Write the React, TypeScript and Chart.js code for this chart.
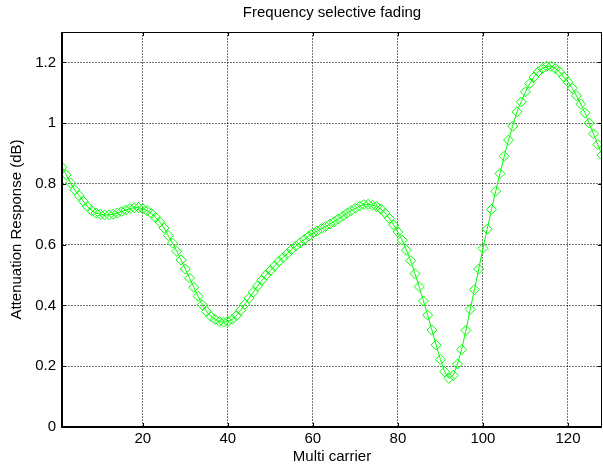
import React, { useEffect, useRef } from "react";
import { Chart, registerables } from "chart.js";

Chart.register(...registerables);

const TITLE = "Frequency selective fading";
const X_LABEL = "Multi carrier";
const Y_LABEL = "Attenuation Response (dB)";

const xTicks = [20, 40, 60, 80, 100, 120];
const yTicks = [0, 0.2, 0.4, 0.6, 0.8, 1, 1.2];

const carriers: number[] = Array.from({ length: 128 }, (_, i) => i + 1);

const attenuation: number[] = [
  // 1-10
  0.855, 0.83, 0.803, 0.78, 0.762, 0.743, 0.725, 0.712, 0.704, 0.7,
  // 11-20
  0.698, 0.698, 0.7, 0.704, 0.709, 0.714, 0.719, 0.722, 0.722, 0.718,
  // 21-30
  0.712, 0.703, 0.69, 0.675, 0.655, 0.63, 0.605, 0.578, 0.55, 0.52,
  // 31-40
  0.49, 0.46, 0.43, 0.402, 0.38, 0.364, 0.354, 0.347, 0.345, 0.347,
  // 41-50
  0.354, 0.367, 0.384, 0.404, 0.424, 0.444, 0.464, 0.483, 0.5, 0.515,
  // 51-60
  0.53, 0.545, 0.558, 0.57, 0.584, 0.596, 0.606, 0.617, 0.628, 0.638,
  // 61-70
  0.645, 0.653, 0.66, 0.668, 0.676, 0.685, 0.694, 0.703, 0.712, 0.72,
  // 71-80
  0.727, 0.732, 0.733, 0.73, 0.725, 0.717, 0.704, 0.686, 0.665, 0.642,
  // 81-90
  0.615, 0.582, 0.547, 0.505, 0.462, 0.415, 0.368, 0.319, 0.27, 0.222,
  // 91-100
  0.182, 0.16, 0.17, 0.207, 0.255, 0.318, 0.387, 0.452, 0.52, 0.588,
  // 101-110
  0.651, 0.716, 0.776, 0.834, 0.891, 0.944, 0.99, 1.037, 1.07, 1.103,
  // 111-120
  1.13, 1.152, 1.169, 1.18, 1.187, 1.187, 1.18, 1.169, 1.152, 1.136,
  // 121-128
  1.115, 1.09, 1.063, 1.034, 1.0, 0.965, 0.93, 0.895,
];

const FONT = "'Liberation Sans', Arial, Helvetica, sans-serif";
const FS = 15;

const boxPlugin = {
  id: "matlabBox",
  afterDatasetsDraw(chart: any) {
    const { ctx, chartArea, scales } = chart;
    const { left, right, top, bottom } = chartArea;
    ctx.save();
    ctx.strokeStyle = "#000";
    ctx.lineWidth = 1;
    const tl = 4;
    xTicks.forEach((v) => {
      const px = Math.round(scales.x.getPixelForValue(v)) + 0.5;
      ctx.beginPath();
      ctx.moveTo(px, bottom);
      ctx.lineTo(px, bottom - tl);
      ctx.moveTo(px, top);
      ctx.lineTo(px, top + tl);
      ctx.stroke();
    });
    yTicks.forEach((v) => {
      const py = Math.round(scales.y.getPixelForValue(v)) + 0.5;
      ctx.beginPath();
      ctx.moveTo(left, py);
      ctx.lineTo(left + tl, py);
      ctx.moveTo(right, py);
      ctx.lineTo(right - tl, py);
      ctx.stroke();
    });
    ctx.lineWidth = 1;
    ctx.beginPath();
    ctx.moveTo(left, top + 0.5);
    ctx.lineTo(right, top + 0.5);
    ctx.moveTo(right - 0.5, top);
    ctx.lineTo(right - 0.5, bottom);
    ctx.stroke();
    ctx.lineWidth = 2;
    ctx.beginPath();
    ctx.moveTo(left, top);
    ctx.lineTo(left, bottom);
    ctx.lineTo(right, bottom);
    ctx.stroke();
    ctx.restore();
  },
};

export default function App() {
  const ref = useRef<HTMLCanvasElement | null>(null);

  useEffect(() => {
    document.body.style.margin = "0";
    const canvas = ref.current;
    if (!canvas) return;
    const chart = new Chart(canvas, {
      type: "line",
      data: {
        labels: carriers,
        datasets: [
          {
            data: carriers.map((x, i) => ({ x, y: attenuation[i] })),
            borderColor: "#00ff00",
            backgroundColor: "rgba(0,0,0,0)",
            borderWidth: 1,
            pointStyle: "rectRot",
            pointRadius: 5,
            pointBorderWidth: 1,
            pointBorderColor: "#00ff00",
            pointBackgroundColor: "rgba(0,0,0,0)",
            tension: 0,
            clip: 0,
          } as any,
        ],
      },
      options: {
        responsive: false,
        animation: false,
        devicePixelRatio: 1,
        layout: { autoPadding: false, padding: { left: 0, right: 1, top: 0, bottom: 0 } },
        plugins: {
          legend: { display: false },
          tooltip: { enabled: false },
          title: {
            display: true,
            fullSize: false,
            text: TITLE,
            color: "#000",
            font: { family: FONT, size: FS, weight: "normal", lineHeight: 1.2 },
            padding: { top: 4, bottom: 10 },
          },
        },
        scales: {
          x: {
            type: "linear",
            min: 1,
            max: 128,
            afterBuildTicks: (scale: any) => {
              scale.ticks = xTicks.map((v) => ({ value: v }));
            },
            afterFit: (scale: any) => {
              scale.height = 43;
            },
            ticks: {
              color: "#000",
              font: { family: FONT, size: FS },
              padding: 3,
              maxRotation: 0,
              autoSkip: false,
            },
            grid: {
              color: "rgba(0,0,0,0.55)",
              drawTicks: false,
            },
            border: { display: false, dash: [2, 1] },
            title: {
              display: true,
              text: X_LABEL,
              color: "#000",
              font: { family: FONT, size: FS, lineHeight: 1.2 },
              padding: { top: 0, bottom: 4 },
            },
          },
          y: {
            type: "linear",
            min: 0,
            max: 1.3,
            afterBuildTicks: (scale: any) => {
              scale.ticks = yTicks.map((v) => ({ value: v }));
            },
            afterFit: (scale: any) => {
              scale.width = 62;
            },
            ticks: {
              color: "#000",
              font: { family: FONT, size: FS },
              padding: 6,
              callback: (v: any) => String(Number(Number(v).toFixed(1))),
            },
            grid: {
              color: "rgba(0,0,0,0.55)",
              drawTicks: false,
            },
            border: { display: false, dash: [2, 1] },
            title: {
              display: true,
              text: Y_LABEL,
              color: "#000",
              font: { family: FONT, size: FS, lineHeight: 1.2 },
              padding: { top: 8, bottom: 0 },
            },
          },
        },
      },
      plugins: [boxPlugin],
    });
    return () => chart.destroy();
  }, []);

  return (
    <div style={{ width: 603, height: 470 }}>
      <canvas ref={ref} width={603} height={470} style={{ display: "block" }} />
    </div>
  );
}
